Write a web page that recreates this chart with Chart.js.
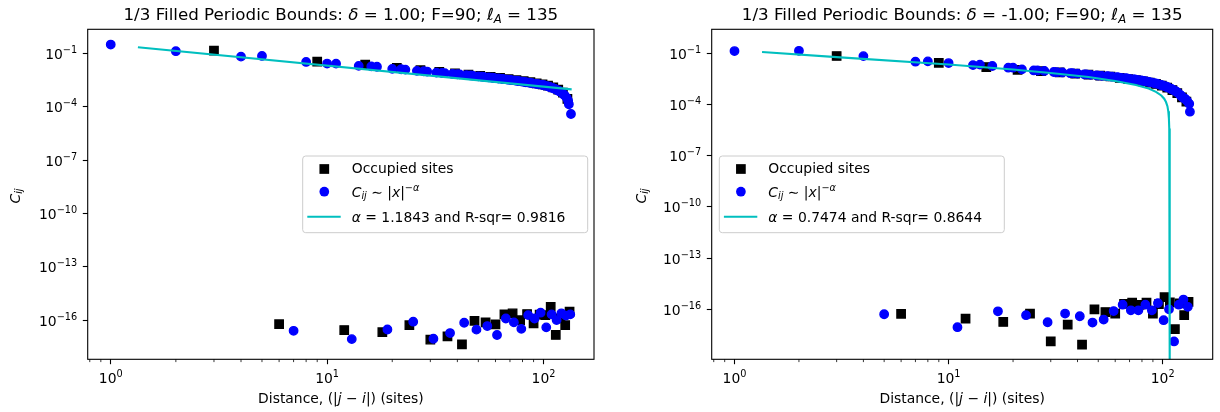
<!DOCTYPE html>
<html>
<head>
<meta charset="utf-8">
<script src="https://cdn.jsdelivr.net/npm/chart.js@4.4.0/dist/chart.umd.min.js"></script>
<style>
  html, body { margin: 0; padding: 0; background: #fff; }
  #wrap { position: relative; width: 1220px; height: 412px; }
  canvas { position: absolute; top: 0; }
</style>
</head>
<body>
<div id="wrap">
  <canvas id="left" width="610" height="412" style="left:0"></canvas>
  <canvas id="right" width="610" height="412" style="left:610px"></canvas>
</div>
<script>
// distances of occupied sites (multiples of 3) and of the other sites
const occX = [3, 6, 9, 12, 15, 18, 21, 24, 27, 30, 33, 36, 39, 42, 45, 48, 51, 54, 57, 60, 63, 66,
  69, 72, 75, 78, 81, 84, 87, 90, 93, 96, 99, 102, 105, 108, 111, 114, 117, 120, 123, 126, 129, 132];
const corX = [1, 2, 4, 5, 7, 8, 10, 11, 13, 14, 16, 17, 19, 20, 22, 23, 25, 26, 28, 29, 31, 32, 34, 35,
  37, 38, 40, 41, 43, 44, 46, 47, 49, 50, 52, 53, 55, 56, 58, 59, 61, 62, 64, 65, 67, 68, 70, 71,
  73, 74, 76, 77, 79, 80, 82, 83, 85, 86, 88, 89, 91, 92, 94, 95, 97, 98, 100, 101, 103, 104, 106, 107,
  109, 110, 112, 113, 115, 116, 118, 119, 121, 122, 124, 125, 127, 128, 130, 131, 133, 134];

// delta = 1.00
const leftOccY = [0.148, 5.9e-17, 0.0355, 2.75e-17, 0.024, 2.1e-17, 0.0158, 5.2e-17, 0.0117, 7.9e-18,
  0.0093, 1.2e-17, 0.0078, 4.3e-18, 0.0066, 9.1e-17, 0.0056, 7.4e-17, 0.0049, 5.8e-17, 0.0043, 2.1e-16,
  0.0037, 2.4e-16, 0.0032, 1.0e-16, 0.0028, 2.2e-16, 0.00245, 6.5e-17, 0.00214, 2.0e-16, 0.00186, 1.9e-16,
  0.00158, 5.6e-16, 0.00126, 1.45e-17, 0.00093, 1.26e-16, 0.00063, 5.2e-17, 0.00028, 2.95e-16];
const leftCorY = [0.324, 0.1365, 0.0676, 0.0741, 2.5e-17, 0.0339, 0.0275, 0.0273, 8.5e-18, 0.0204,
  0.0191, 0.0182, 2.95e-17, 0.0138, 0.0132, 0.0126, 8.1e-17, 0.0107, 0.0102, 0.00977, 8.9e-18, 0.00851,
  0.00813, 0.00794, 1.86e-17, 0.00724, 0.00692, 0.00676, 7.1e-17, 0.00617, 0.00589, 0.00575, 2.9e-17,
  0.00525, 0.00501, 0.0049, 4.6e-17, 0.00457, 0.00437, 0.00427, 1.45e-17, 0.00398, 0.0038, 0.00372,
  1.23e-16, 0.00347, 0.00331, 0.00324, 7.4e-17, 0.00302, 0.00288, 0.00282, 3.2e-17, 0.00263, 0.00251,
  0.00245, 1.9e-16, 0.00229, 0.00219, 0.00214, 1.23e-16, 0.002, 0.00191, 0.00186, 2.6e-16, 0.00174,
  0.00166, 0.00162, 3.9e-17, 0.00148, 0.00138, 0.00132, 2.1e-16, 0.00117, 0.00107, 0.00102, 1.0e-16,
  0.00087, 0.00079, 0.00074, 2.4e-16, 0.0006, 0.00051, 0.00045, 1.8e-16, 0.00033, 0.00022, 0.00014,
  2.1e-16, 0.00004];
const leftFitX = [1.335, 135];
const leftFitY = [0.229, 0.00097];

// delta = -1.00
const rightOccY = [0.07, 5.4e-17, 0.028, 2.8e-17, 0.0158, 1.8e-17, 0.0107, 5.6e-17, 0.0091, 1.3e-18,
  0.0076, 1.26e-17, 0.0065, 8.5e-19, 0.0056, 1.0e-16, 0.0049, 6.9e-17, 0.0044, 5.6e-17, 0.0036, 2.1e-16,
  0.0031, 2.45e-16, 0.0027, 1.8e-16, 0.0023, 2.45e-16, 0.00195, 5.6e-17, 0.0016, 2.0e-16, 0.00128, 5.2e-16,
  0.00098, 2.5e-16, 0.00071, 6.8e-18, 0.00047, 2.2e-16, 0.00026, 4.5e-17, 0.00015, 2.7e-16];
const rightCorY = [0.136, 0.141, 0.069, 5.1e-17, 0.0324, 0.0339, 0.0269, 8.9e-18, 0.0204, 0.0219,
  0.0182, 7.6e-17, 0.0145, 0.0145, 0.0115, 4.5e-17, 0.01, 0.0099, 0.0093, 1.74e-17, 0.0081, 0.0079,
  0.0076, 5.6e-17, 0.0069, 0.0068, 0.0065, 3.9e-17, 0.0059, 0.0058, 0.0055, 1.66e-17, 0.0051, 0.005,
  0.0048, 2.5e-17, 0.0046, 0.0045, 0.0043, 7.9e-17, 0.004, 0.0039, 0.0037, 1.86e-16, 0.0035, 0.0034,
  0.0032, 8.7e-17, 0.003, 0.00295, 0.0028, 8.7e-17, 0.0026, 0.0025, 0.0024, 1.86e-16, 0.0022, 0.00214,
  0.002, 8.7e-17, 0.0018, 0.00174, 0.00166, 2.3e-16, 0.00148, 0.00141, 0.00132, 2.3e-17, 0.00115,
  0.0011, 0.001, 1.0e-16, 0.00085, 0.00079, 0.00072, 1.3e-18, 0.0006, 0.00056, 0.00048, 1.86e-16,
  0.00036, 0.00032, 0.00026, 3.7e-16, 0.00022, 0.0002, 0.00016, 1.4e-16, 0.00011, 0.000038];
const rightFitX = [1.345, 3, 10, 20, 30, 45, 60, 75, 86, 93, 98.5, 101.6, 103.6, 105.2, 106.2, 106.9, 107.3,
  107.6, 107.8, 107.9, 108.0];
const rightFitY = [0.119, 0.06, 0.022, 0.0113, 0.0071, 0.0041, 0.0024, 0.0014, 0.00086, 0.00055, 0.00034,
  0.00022, 0.00014, 0.00008, 0.00004, 1.5e-5, 4e-6, 1e-6, 1e-8, 1e-12, 1e-20];

// tick labels
const xTicks = [1, 10, 100];
const xTickExp = ['0', '1', '2'];
const xMinorTicks = [0.8, 0.9, 2, 3, 4, 5, 6, 7, 8, 9, 20, 30, 40, 50, 60, 70, 80, 90];
const yTicks = [1e-16, 1e-13, 1e-10, 1e-7, 1e-4, 1e-1];
const yTickExp = ['\u221216', '\u221213', '\u221210', '\u22127', '\u22124', '\u22121'];

const FONT = '"DejaVu Sans", sans-serif';
const BLUE = '#0000ff', CYAN = '#00bfbf';

function pts(xs, ys) { return xs.map((x, i) => ({ x: x, y: ys[i] })); }

function partSize(p, size) { return (p.sub || p.sup) ? size * 0.7 : size; }
function setFont(ctx, size, it) { ctx.font = (it ? 'italic ' : '') + size + 'px ' + FONT; }
function richWidth(ctx, parts, size) {
  let w = 0;
  parts.forEach(p => { setFont(ctx, partSize(p, size), p.i); w += ctx.measureText(p.t).width; });
  return w;
}
function drawRich(ctx, parts, x, y, size, align) {
  const w = richWidth(ctx, parts, size);
  let cx = align === 'center' ? x - w / 2 : (align === 'right' ? x - w : x);
  ctx.textAlign = 'left';
  ctx.textBaseline = 'alphabetic';
  parts.forEach(p => {
    setFont(ctx, partSize(p, size), p.i);
    const dy = p.sup ? -0.43 * size : (p.sub ? 0.17 * size : 0);
    ctx.fillText(p.t, cx, y + dy);
    cx += ctx.measureText(p.t).width;
  });
}

const deco = {
  id: 'deco',
  afterDraw(chart, args, o) {
    const ctx = chart.ctx, a = chart.chartArea;
    const xs = chart.scales.x, ys = chart.scales.y;
    ctx.save();
    ctx.strokeStyle = '#000';
    ctx.fillStyle = '#000';
    ctx.lineWidth = 1.1;
    ctx.strokeRect(a.left, a.top, a.right - a.left, a.bottom - a.top);

    ctx.lineWidth = 0.8;
    xMinorTicks.forEach(v => {
      const px = xs.getPixelForValue(v);
      if (px < a.left || px > a.right) return;
      ctx.beginPath(); ctx.moveTo(px, a.bottom); ctx.lineTo(px, a.bottom + 2.8); ctx.stroke();
    });

    xTicks.forEach((v, i) => {
      drawRich(ctx, [{ t: '10' }, { t: xTickExp[i], sup: 1 }], xs.getPixelForValue(v), a.bottom + 23.5, 13.9, 'center');
    });
    yTicks.forEach((v, i) => {
      drawRich(ctx, [{ t: '10' }, { t: yTickExp[i], sup: 1 }], a.left - 10.5, ys.getPixelForValue(v) + 5.5, 13.9, 'right');
    });

    const cxA = (a.left + a.right) / 2;
    drawRich(ctx, o.title, cxA, 20, 16.7, 'center');
    drawRich(ctx, [{ t: 'Distance, (|' }, { t: 'j', i: 1 }, { t: ' \u2212 ' }, { t: 'i', i: 1 }, { t: '|) (sites)' }],
      cxA, 403, 13.9, 'center');

    ctx.save();
    ctx.translate(o.ylabelX, 196);
    ctx.rotate(-Math.PI / 2);
    drawRich(ctx, [{ t: 'C', i: 1 }, { t: 'ij', i: 1, sub: 1 }], 0, 0, 13.9, 'center');
    ctx.restore();

    // legend
    const L = o.legend;
    ctx.fillStyle = 'rgba(255,255,255,0.8)';
    ctx.strokeStyle = '#cccccc';
    ctx.lineWidth = 1;
    ctx.beginPath();
    ctx.roundRect(L.x, L.y, L.w, L.h, 3);
    ctx.fill();
    ctx.stroke();
    const ds = chart.data.datasets;
    ctx.fillStyle = ds[2].backgroundColor;
    ctx.fillRect(L.x + 21.6 - 4.85, L.y + 13 - 4.85, 9.7, 9.7);
    ctx.fillStyle = ds[1].backgroundColor;
    ctx.beginPath(); ctx.arc(L.x + 21.6, L.y + 35.7, 4.85, 0, Math.PI * 2); ctx.fill();
    ctx.strokeStyle = ds[0].borderColor;
    ctx.lineWidth = ds[0].borderWidth;
    ctx.beginPath(); ctx.moveTo(L.x + 4.6, L.y + 60.7); ctx.lineTo(L.x + 38, L.y + 60.7); ctx.stroke();
    ctx.fillStyle = '#000';
    drawRich(ctx, [{ t: 'Occupied sites' }], L.x + 49, L.y + 17.3, 13.9, 'left');
    drawRich(ctx, [{ t: 'C', i: 1 }, { t: 'ij', i: 1, sub: 1 }, { t: ' \u223c |' }, { t: 'x', i: 1 }, { t: '|' },
      { t: '\u2212', sup: 1 }, { t: '\u03b1', i: 1, sup: 1 }], L.x + 49, L.y + 40.7, 13.9, 'left');
    drawRich(ctx, [{ t: '\u03b1', i: 1 }, { t: o.fitText }], L.x + 49, L.y + 66.3, 13.9, 'left');
    ctx.restore();
  }
};

function build(id, o) {
  return new Chart(document.getElementById(id), {
    type: 'scatter',
    data: {
      datasets: [
        { label: 'fit', data: pts(o.fitX, o.fitY), showLine: true, pointRadius: 0,
          borderColor: CYAN, borderWidth: 2.1, order: 0 },
        { label: 'C_ij ~ |x|^-alpha', data: pts(corX, o.corY), pointStyle: 'circle', pointRadius: 4.2,
          borderWidth: 1.4, backgroundColor: BLUE, borderColor: BLUE, order: 1 },
        { label: 'Occupied sites', data: pts(occX, o.occY), pointStyle: 'rect', pointRadius: 5.9,
          borderWidth: 1.4, backgroundColor: '#000', borderColor: '#000', order: 2 }
      ]
    },
    options: {
      responsive: false,
      animation: false,
      events: [],
      devicePixelRatio: 1,
      layout: { padding: { top: 29.3, right: o.padRight, bottom: 0, left: 0 } },
      scales: {
        x: {
          type: 'logarithmic', min: 0.7826, max: 171.2,
          afterBuildTicks: s => { s.ticks = xTicks.map(v => ({ value: v })); },
          afterFit: s => { s.height = 52.7; },
          ticks: { display: false },
          grid: { drawOnChartArea: false, drawTicks: true, tickLength: 4.9, tickWidth: 1.1, tickColor: '#000' },
          border: { display: false }
        },
        y: {
          type: 'logarithmic', min: o.yMin, max: o.yMax,
          afterBuildTicks: s => { s.ticks = yTicks.map(v => ({ value: v })); },
          afterFit: s => { s.width = o.yWidth; },
          ticks: { display: false },
          grid: { drawOnChartArea: false, drawTicks: true, tickLength: 4.9, tickWidth: 1.1, tickColor: '#000' },
          border: { display: false }
        }
      },
      plugins: {
        legend: { display: false },
        tooltip: { enabled: false },
        deco: o
      }
    },
    plugins: [deco]
  });
}

build('left', {
  occY: leftOccY, corY: leftCorY, fitX: leftFitX, fitY: leftFitY,
  yMin: 6.2e-19, yMax: 2.34, yWidth: 87.7, padRight: 16, ylabelX: 19.5,
  title: [{ t: '1/3 Filled Periodic Bounds: ' }, { t: '\u03b4', i: 1 }, { t: ' = 1.00; F=90; ' },
    { t: '\u2113', i: 1 }, { t: 'A', i: 1, sub: 1 }, { t: ' = 135' }],
  fitText: ' = 1.1843 and R-sqr= 0.9816',
  legend: { x: 302.7, y: 156, w: 285, h: 76.7 }
});
build('right', {
  occY: rightOccY, corY: rightCorY, fitX: rightFitX, fitY: rightFitY,
  yMin: 1.17e-19, yMax: 2.57, yWidth: 101.7, padRight: 5, ylabelX: 35.5,
  title: [{ t: '1/3 Filled Periodic Bounds: ' }, { t: '\u03b4', i: 1 }, { t: ' = -1.00; F=90; ' },
    { t: '\u2113', i: 1 }, { t: 'A', i: 1, sub: 1 }, { t: ' = 135' }],
  fitText: ' = 0.7474 and R-sqr= 0.8644',
  legend: { x: 109.3, y: 156, w: 285, h: 76.7 }
});
</script>
</body>
</html>
